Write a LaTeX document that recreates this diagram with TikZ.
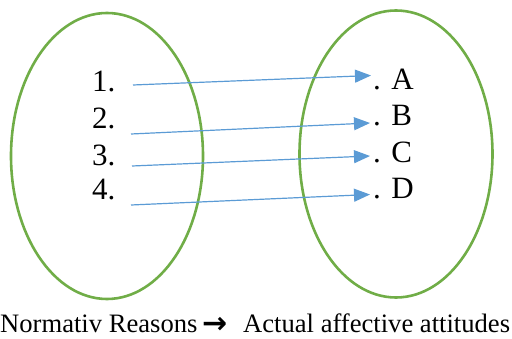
\documentclass[tikz,border=0pt]{standalone}
\usepackage{fontspec}
\setmainfont{Liberation Serif}
\newfontfamily\arrowfont{DejaVu Sans}
\usetikzlibrary{shapes.geometric,arrows.meta}
\definecolor{ogreen}{HTML}{70AD47}
\definecolor{oblue}{HTML}{5B9BD5}
\tikzset{
  setell/.style={draw=ogreen, line width=2.6pt, ellipse, inner sep=0pt},
  item/.style={anchor=base west, inner sep=0pt, font=\fontsize{31}{36}\selectfont},
  caption/.style={anchor=base west, inner sep=0pt, font=\fontsize{26.6}{30}\selectfont},
  conn/.style={draw=oblue, line width=1.2pt, -{Triangle[length=16pt,width=13pt]}}
}
\begin{document}
\begin{tikzpicture}[x=1pt,y=-1pt]
\useasboundingbox (0,0) rectangle (512,339);
\node[setell, minimum width=192pt, minimum height=286pt] (L) at (107,156) {};
\node[setell, minimum width=193pt, minimum height=287pt] (R) at (396,154) {};
\node[item] (n1) at (92,92) {1.};
\node[item] (n2) at (92,129) {2.};
\node[item] (n3) at (92,166) {3.};
\node[item] (n4) at (92,200) {4.};
\node[item] (a) at (373,90) {. A};
\node[item] (b) at (373,126) {. B};
\node[item] (c) at (373,162.5) {. C};
\node[item] (d) at (373,199) {. D};
\coordinate (s1) at (133,85);
\coordinate (s2) at (131,134);
\coordinate (s3) at (132,166);
\coordinate (s4) at (131,205);
\coordinate (t1) at (371,75.5);
\coordinate (t2) at (370,123);
\coordinate (t3) at (370,156);
\coordinate (t4) at (370,194.5);
\draw[conn] (s1) -- (t1);
\draw[conn] (s2) -- (t2);
\draw[conn] (s3) -- (t3);
\draw[conn] (s4) -- (t4);
\node[caption] (cap1) at (0,333) {Normativ Reasons};
\node[anchor=base west, inner sep=0pt, font=\arrowfont\bfseries\fontsize{30}{32}\selectfont] (capar) at (202,334) {→};
\node[caption] (cap2) at (243,333) {Actual affective attitudes};
\end{tikzpicture}
\end{document}
